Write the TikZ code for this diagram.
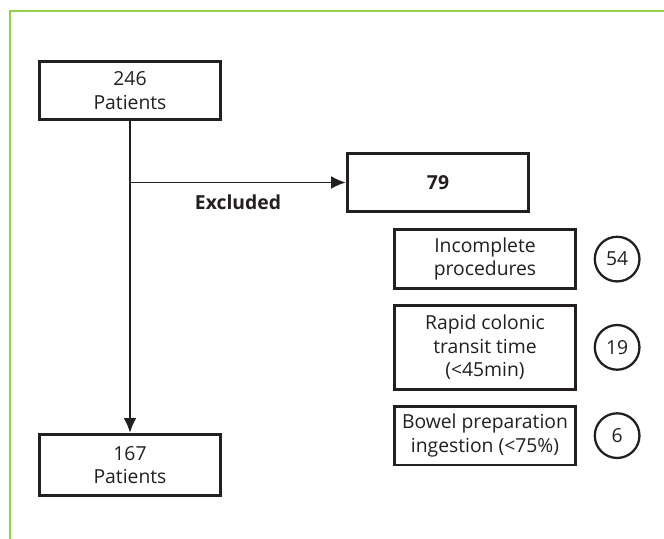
\documentclass[tikz,border=0pt]{standalone}
\usepackage{fontspec}
\setmainfont{Open Sans}
\usepackage{xcolor}
\usetikzlibrary{arrows.meta, positioning}
\definecolor{framegreen}{RGB}{146,208,80}
\definecolor{inkgray}{RGB}{35,31,32}

\begin{document}
\begin{tikzpicture}[x=0.75pt, y=-0.75pt]
		\tikzset{
			node distance=10.5pt and 12.4pt,
			stage/.style={rectangle, draw=inkgray, line width=2.2pt, fill=white, text=inkgray, align=center,
			font=\fontsize{14.5}{17.5}\selectfont, minimum width=136pt, minimum height=44pt, inner sep=0pt},
			count/.style={circle, draw=inkgray, line width=1.7pt, text=inkgray, inner sep=0pt,
			font=\fontsize{14.5}{17.5}\selectfont, minimum size=33.5pt},
			flow/.style={draw=inkgray, line width=1.3pt, -{Latex[length=11pt,width=9.5pt]}}
		}
		\useasboundingbox (0,0) rectangle (664,539);
		\draw[framegreen, line width=1.3pt] (10,539) -- (10,11) -- (664,11);

		\node[stage](total) at (130,90.5){246\\Patients};
		\node[stage, minimum height=46pt](final) at (130,465){167\\Patients};
		\node[stage, font=\fontsize{14.5}{17.5}\selectfont\bfseries](excl) at (438,182.5){79};
		\node[stage, below=11.25pt of excl.south west, anchor=north west, xshift=35.25pt](incomp){Incomplete\\procedures};
		\node[stage, below=of incomp, minimum height=63pt](rapid){Rapid colonic\\transit time\\(<45min)};
		\node[stage, below=of rapid](bowel){Bowel preparation\\ingestion (<75\%)};
		\node[count, right=of incomp](nincomp){54};
		\node[count, right=of rapid](nrapid){19};
		\node[count, right=of bowel](nbowel){6};

		\coordinate (branch) at (total.south |- excl.west);
		\node[text=inkgray, font=\fontsize{14.5}{17.5}\selectfont\bfseries](excltext) at (238,202){Excluded};

		\draw[flow](total) -- (final);
		\draw[flow](branch) -- (excl.west);
	\end{tikzpicture}
\end{document}
